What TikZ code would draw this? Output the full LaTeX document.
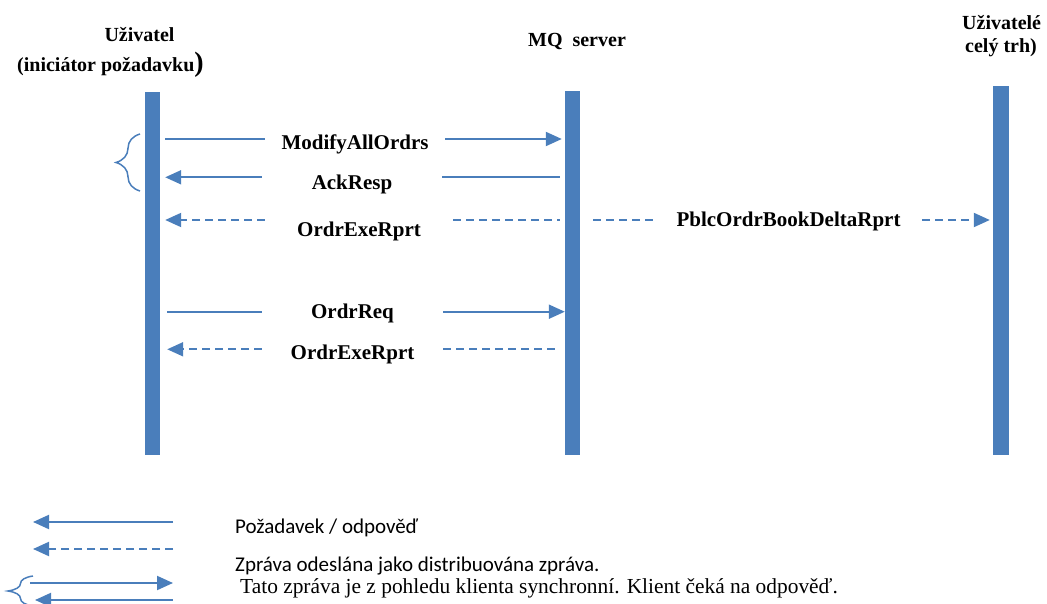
\documentclass[tikz,border=0pt]{standalone}
\usepackage{fontspec}
\setmainfont{Liberation Serif}
\newfontfamily\legfont{Carlito}
\usetikzlibrary{positioning,arrows.meta,decorations.pathreplacing}

\definecolor{msblue}{HTML}{4A7EBB}

\tikzset{
  bar/.style={fill=msblue, draw=none, inner sep=0pt, minimum width=15pt},
  msg/.style={draw=msblue, line width=2pt},
  dmsg/.style={msg, dash pattern=on 8pt off 5pt},
  fwd/.style={-{Triangle[length=16pt,width=14pt]}},
  lbl/.style={font=\fontsize{21}{25}\selectfont\bfseries, inner sep=0pt,
    text depth=4pt, text height=#1},
  lbl/.default=18pt,
  who/.style={font=\fontsize{20}{24}\selectfont\bfseries, inner sep=0pt},
  grp/.style={draw=msblue, line width=1.5pt, decorate,
    decoration={brace, amplitude=#1}},
  legtext/.style={inner sep=0pt, anchor=base west},
}

\begin{document}
\begin{tikzpicture}[x=1pt,y=-1pt]
\useasboundingbox (0,0) rectangle (1047,604);

% lifelines
\node[bar, minimum height=363pt] (user) at (152.5,273.5) {};
\node[bar, minimum height=364pt] (srv) at (572.5,273) {};
\node[bar, minimum height=369pt, minimum width=16pt] (mkt) at (1001,270.5) {};

% headings
\node[who, anchor=base] (usert) at (139.5,42) {Uživatel};
\node[who, anchor=base west] (usert2) at (17,72)
  {(iniciátor požadavku{\fontsize{28}{30}\selectfont)}};
\node[who, anchor=base] (srvt) at (577,46.5) {MQ\ \ server};
\node[who, anchor=base west] (mktt) at (962,30) {Uživatelé};
\node[who, anchor=base west] (mktt2) at (965,53) {celý trh)};

% message labels
\node[lbl=26pt, minimum width=180pt] (m1) at (355,139) {ModifyAllOrdrs};
\node[lbl=28pt, minimum width=180pt] (m2) at (352,177.3) {AckResp};
\node[lbl=37pt, minimum width=188pt] (m3) at (359,220) {OrdrExeRprt};
\node[lbl, minimum width=267pt] (m6) at (788.5,220) {PblcOrdrBookDeltaRprt};
\node[lbl, minimum width=181pt] (m4) at (352.5,311.7) {OrdrReq};
\node[lbl=24pt, minimum width=181pt] (m5) at (352.5,349.3) {OrdrExeRprt};

% messages
\draw[msg, shorten <=5pt] (user.east |- m1) -- (m1.west);
\draw[msg, fwd, shorten >=3pt] (m1.east) -- (srv.west |- m1);
\draw[msg, fwd, shorten >=5pt] (m2.west) -- (user.east |- m2);
\draw[msg, shorten >=5pt] (m2.east) -- (srv.west |- m2);
\draw[dmsg, fwd, shorten >=5pt] (m3.west) -- (user.east |- m3);
\draw[dmsg, shorten >=5pt] (m3.east) -- (srv.west |- m3);
\draw[dmsg, shorten <=13pt] (srv.east |- m6) -- (m6.west);
\draw[dmsg, fwd, shorten >=3pt] (m6.east) -- (mkt.west |- m6);
\draw[msg, shorten <=7pt] (user.east |- m4) -- (m4.west);
\draw[msg, fwd, shorten >=0pt] (m4.east) -- (srv.west |- m4);
\draw[dmsg, fwd, shorten >=7pt] (m5.west) -- (user.east |- m5);
\draw[dmsg, shorten >=5pt] (m5.east) -- (srv.west |- m5);

% synchronous pair
\draw[grp=24pt] (140,191) -- (140,134);

% legend
\coordinate (k1a) at (173,522);
\coordinate (k1b) at (33,522);
\coordinate (k2a) at (173,549);
\coordinate (k2b) at (33,549);
\coordinate (k3a) at (30,583);
\coordinate (k3b) at (173,583);
\coordinate (k4a) at (173,600);
\coordinate (k4b) at (35,600);
\draw[msg, fwd] (k1a) -- (k1b);
\draw[dmsg, fwd] (k2a) -- (k2b);
\draw[msg, fwd] (k3a) -- (k3b);
\draw[msg, fwd] (k4a) -- (k4b);
\draw[grp=25pt] (33,606) -- (33,576);

\node[legtext] (kt1) at (235,533)
  {\legfont\fontsize{21}{25}\selectfont Požadavek / odpověď};
\node[legtext] (kt2) at (235,571)
  {\legfont\fontsize{21}{25}\selectfont Zpráva odeslána jako distribuována zpráva.};
\node[legtext] (kt3) at (240,593)
  {\fontsize{21.4}{25}\selectfont Tato zpráva je z pohledu klienta synchronní. Klient čeká na odpověď.};
\end{tikzpicture}
\end{document}
